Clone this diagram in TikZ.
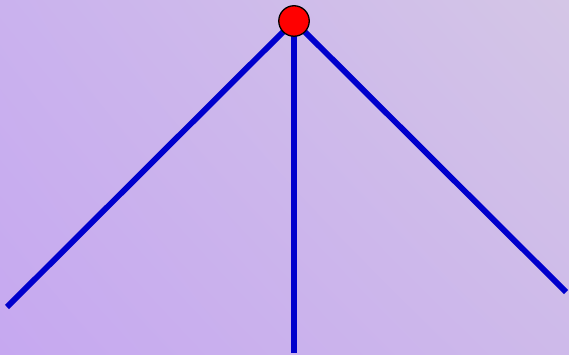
\documentclass[tikz,border=0pt]{standalone}
\usetikzlibrary{shadings}
\definecolor{bgul}{RGB}{202,178,238}
\definecolor{bgur}{RGB}{212,198,230}
\definecolor{bgll}{RGB}{198,168,240}
\definecolor{bglr}{RGB}{206,186,234}
\definecolor{stickblue}{RGB}{0,0,204}
\begin{document}
\begin{tikzpicture}[x=1pt,y=-1pt,
  stick/.style={draw=stickblue,line width=5.8pt},
  ball/.style={circle,draw=black,line width=1.3pt,fill=red,minimum size=30.5pt,inner sep=0pt}]
\useasboundingbox (0,0) rectangle (569,355);
\shade[upper left=bgul,upper right=bgur,lower left=bgll,lower right=bglr]
  (0,0) rectangle (569,355);
\coordinate (c) at (294,21);
\coordinate (l) at (7,307);
\coordinate (r) at (566,292);
\coordinate (b) at (294,353);
\draw[stick] (c) -- (l);
\draw[stick] (c) -- (r);
\draw[stick] (c) -- (b);
\node[ball] (n) at (c) {};
\end{tikzpicture}
\end{document}
